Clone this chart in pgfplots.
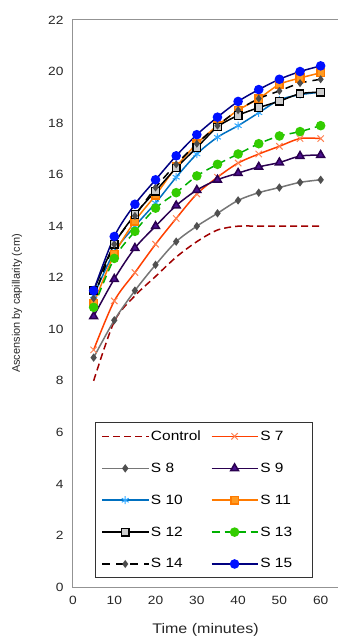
\documentclass[border=0pt]{standalone}
\usepackage{pgfplots}
\pgfplotsset{compat=1.18}
\usepackage{fontspec}
\setmainfont{Liberation Sans}[FakeStretch=1.15]
\newfontfamily\ylabfont{Liberation Sans}
\definecolor{cctrl}{HTML}{A00000}
\definecolor{cs7}{HTML}{FF4000}
\definecolor{cs7m}{HTML}{FF8050}
\definecolor{cs8}{HTML}{767676}
\definecolor{cs8m}{HTML}{505050}
\definecolor{cs9}{HTML}{2A0050}
\definecolor{cs9m}{HTML}{4B1090}
\definecolor{cs10}{HTML}{0070C0}
\definecolor{cs10m}{HTML}{30A8FF}
\definecolor{cs11}{HTML}{FF7A00}
\definecolor{cs11m}{HTML}{FF9A20}
\definecolor{cs13}{HTML}{00B000}
\definecolor{cs13m}{HTML}{33CC00}
\definecolor{cs15}{HTML}{000080}
\definecolor{cs15m}{HTML}{0010FF}

\pgfplotstableread{
t ctrl s7 s8 s9 s10 s11 s12 s13 s14 s15
5 8.0 9.2 8.9 10.5 11.3 11.0 11.5 10.85 11.2 11.5
10 10.3 11.1 10.35 11.95 13.0 12.9 13.3 12.75 13.3 13.6
15 11.3 12.2 11.5 13.15 14.0 14.2 14.45 13.8 14.4 14.85
20 12.05 13.3 12.5 14.0 14.9 15.2 15.36 14.7 15.5 15.8
25 12.8 14.3 13.4 14.8 15.9 16.3 16.26 15.3 16.4 16.73
30 13.4 15.25 14.0 15.4 16.8 17.2 17.05 15.95 17.2 17.55
35 13.85 15.9 14.5 15.8 17.45 17.9 17.85 16.4 17.9 18.23
40 14.0 16.45 15.0 16.06 17.9 18.5 18.3 16.8 18.5 18.84
45 14.0 16.8 15.3 16.3 18.4 18.95 18.6 17.2 18.95 19.3
50 14.0 17.1 15.5 16.47 18.9 19.5 18.85 17.5 19.25 19.7
55 14.0 17.4 15.7 16.72 19.1 19.75 19.14 17.67 19.55 20.0
60 14.0 17.4 15.8 16.76 19.2 19.95 19.2 17.9 19.7 20.22
}\datatable

\begin{document}
\begin{tikzpicture}
\begin{axis}[
  scale only axis, width=265bp, height=567bp,
  xmin=0, xmax=64.2, ymin=0, ymax=22,
  xtick={0,10,...,60}, ytick={0,2,...,22},
  axis line style={draw=gray!85, line width=1bp},
  tick style={draw=none},
  /pgf/number format/assume math mode=true,
  ticklabel style={font=\fontsize{12}{12}\selectfont, text=black!85},
  yticklabel style={xshift=-6bp},
  xticklabel style={yshift=-6bp},
  xlabel={Time (minutes)},
  xlabel style={font=\fontsize{14}{14}\selectfont, text=black!85, at={(axis description cs:0.5,-0.0758)}, anchor=center},
  ylabel={Ascension by capillarity (cm)},
  ylabel style={font=\ylabfont\fontsize{11}{11}\selectfont, text=black!85, at={(axis description cs:-0.211,0.5)}, anchor=center, rotate=0},
  legend columns=2,
  legend cell align=left,
  legend style={at={(axis description cs:0.083,0.016)}, anchor=south west,
    draw=black!80, line width=1bp, font=\fontsize{13.5}{13.5}\selectfont,
    inner xsep=6bp, inner ysep=6bp, row sep=17bp,
    /tikz/every even column/.append style={column sep=8bp}},
  legend image code/.code={\draw[mark repeat=2,mark phase=2] plot coordinates {(0bp,0bp) (23bp,0bp) (46bp,0bp)};},
  every axis plot/.append style={line width=1.5bp, smooth},
]
\addplot[cctrl, dash pattern=on 7bp off 4bp] table[x=t,y=ctrl]{\datatable};
\addlegendentry{Control}
\addplot[cs7, mark=x, mark size=4.5bp, mark options={draw=cs7m, line width=1bp}] table[x=t,y=s7]{\datatable};
\addlegendentry{\makebox[44bp][l]{S 7}}
\addplot[cs8, mark=diamond*, mark size=3bp, mark options={fill=cs8m, draw=cs8m}] table[x=t,y=s8]{\datatable};
\addlegendentry{S 8}
\addplot[cs9, mark=triangle*, mark size=4.5bp, mark options={fill=cs9m, draw=cs9}] table[x=t,y=s9]{\datatable};
\addlegendentry{S 9}
\addplot[cs10, mark=asterisk, mark size=4bp, mark options={draw=cs10m, line width=1bp}] table[x=t,y=s10]{\datatable};
\addlegendentry{S 10}
\addplot[cs11, mark=square*, mark size=3.8bp, mark options={fill=cs11m, draw=cs11}] table[x=t,y=s11]{\datatable};
\addlegendentry{S 11}
\addplot[black, mark=square*, mark size=3.8bp, mark options={fill=gray!40, draw=black, line width=1.2bp}] table[x=t,y=s12]{\datatable};
\addlegendentry{S 12}
\addplot[cs13, dash pattern=on 8bp off 5bp, mark=*, mark size=4bp, mark options={fill=cs13m, draw=cs13m, solid}] table[x=t,y=s13]{\datatable};
\addlegendentry{S 13}
\addplot[black, dash pattern=on 8bp off 6bp, mark=diamond*, mark size=2.8bp, mark options={fill=black!70, draw=black!70, solid}] table[x=t,y=s14]{\datatable};
\addlegendentry{S 14}
\addplot[cs15, mark=*, mark size=4bp, mark options={fill=cs15m, draw=cs15m}] table[x=t,y=s15]{\datatable};
\addlegendentry{S 15}
\coordinate (bl) at (rel axis cs:0,0);
\coordinate (tr) at (rel axis cs:1,1);
\end{axis}
\pgfresetboundingbox
\path[use as bounding box] ([shift={(-73bp,-52bp)}]bl) rectangle ([shift={(0bp,20bp)}]tr);
\end{tikzpicture}
\end{document}
